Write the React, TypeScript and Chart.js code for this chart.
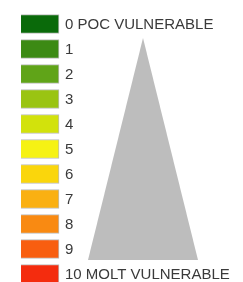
import React, { useEffect, useRef } from "react";
import { Chart, registerables } from "chart.js";

Chart.register(...registerables);

// Legend classes (0 = POC vulnerable ... 10 = molt vulnerable)
const classValues = [0, 1, 2, 3, 4, 5, 6, 7, 8, 9, 10];
const classLabels = [
  "0 POC VULNERABLE",
  "1",
  "2",
  "3",
  "4",
  "5",
  "6",
  "7",
  "8",
  "9",
  "10 MOLT VULNERABLE",
];
const classColors = [
  "#0a6a0a",
  "#3c8a14",
  "#60a418",
  "#9ac412",
  "#d2e20c",
  "#f6f214",
  "#fad60c",
  "#fab012",
  "#f98a12",
  "#f85e10",
  "#f42c0e",
];
// Triangle (wedge) outline: base-left, apex, base-right
const wedgeX = [-1, 0, 1];
const wedgeY = [0, 1, 0];

const labelPlugin = {
  id: "swatchLabels",
  afterDatasetsDraw(chart: any) {
    const meta = chart.getDatasetMeta(0);
    const ctx = chart.ctx;
    ctx.save();
    ctx.font = "15px 'Liberation Sans', Arial, sans-serif";
    ctx.fillStyle = "#3a3a3a";
    ctx.textAlign = "left";
    ctx.textBaseline = "middle";
    meta.data.forEach((bar: any, i: number) => {
      ctx.fillText(classLabels[i], bar.x + 6, bar.y + 1);
    });
    ctx.restore();
  },
};

export default function App() {
  const ref = useRef<HTMLCanvasElement>(null);
  useEffect(() => {
    if (!ref.current) return;
    const chart = new Chart(ref.current, {
      type: "bar",
      data: {
        datasets: [
          {
            type: "bar",
            indexAxis: "y",
            grouped: false,
            data: classValues.map((v) => ({ y: v, x: [0, 1] })) as any,
            backgroundColor: classColors,
            borderColor: "rgba(160,160,160,0.7)",
            borderWidth: 1,
            barThickness: 19,
            xAxisID: "x",
            yAxisID: "y",
          } as any,
          {
            type: "line",
            indexAxis: "x",
            data: wedgeX.map((x, i) => ({ x, y: wedgeY[i] })),
            xAxisID: "x2",
            yAxisID: "y2",
            fill: "origin",
            backgroundColor: "#bdbdbd",
            borderColor: "#bdbdbd",
            borderWidth: 0,
            pointRadius: 0,
            tension: 0,
          } as any,
        ],
      },
      options: {
        responsive: false,
        animation: false,
        layout: { padding: 0 },
        plugins: {
          legend: { display: false },
          tooltip: { enabled: false },
        },
        scales: {
          x: { type: "linear", offset: false, min: -0.553, max: 5.842, display: false },
          y: { type: "linear", offset: false, reverse: true, min: -0.96, max: 10.32, display: false },
          x2: { type: "linear", offset: false, min: -2.6, max: 1.818, display: false },
          y2: { type: "linear", offset: false, min: -0.099, max: 1.171, display: false },
        },
      } as any,
      plugins: [labelPlugin],
    });
    return () => chart.destroy();
  }, []);
  return (
    <div style={{ position: "absolute", left: 0, top: 0, width: 243, height: 282, background: "#fff" }}>
      <canvas ref={ref} width={243} height={282} />
    </div>
  );
}
